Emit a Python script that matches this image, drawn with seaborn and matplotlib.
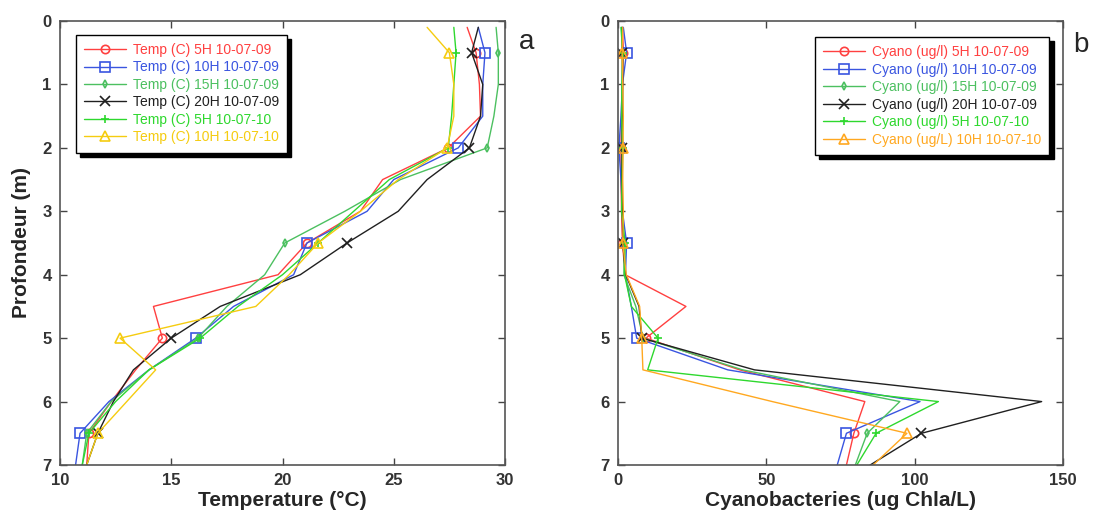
import matplotlib
matplotlib.use("Agg")
import matplotlib.pyplot as plt
import seaborn as sns
import numpy as np

# ---------------- data ----------------
depth = [0.1, 0.5, 1.0, 1.5, 2.0, 2.5, 3.0, 3.5, 4.0, 4.5, 5.0, 5.5, 6.0, 6.5, 7.0]

temp_labels = ["Temp (C) 5H 10-07-09", "Temp (C) 10H 10-07-09", "Temp (C) 15H 10-07-09",
               "Temp (C) 20H 10-07-09", "Temp (C) 5H 10-07-10", "Temp (C) 10H 10-07-10"]
cyano_labels = ["Cyano (ug/l) 5H 10-07-09", "Cyano (ug/l) 10H 10-07-09", "Cyano (ug/l) 15H 10-07-09",
                "Cyano (ug/l) 20H 10-07-09", "Cyano (ug/l) 5H 10-07-10", "Cyano (ug/L) 10H 10-07-10"]

temp_5h_09 = [28.3, 28.7, 28.85, 28.9, 27.45, 24.5, 23.5, 21.1, 19.8, 14.2, 14.6, 13.4, 12.3, 11.3, 11.2]
temp_10h_09 = [28.8, 29.1, 29.0, 29.0, 27.9, 25.0, 23.8, 21.1, 20.5, 17.8, 16.1, 14.0, 12.2, 10.9, 10.7]
temp_15h_09 = [29.6, 29.7, 29.7, 29.5, 29.2, 25.3, 22.8, 20.1, 19.2, 17.5, 16.2, 14.0, 12.3, 11.2, 11.0]
temp_20h_09 = [28.8, 28.5, 29.0, 28.9, 28.4, 26.5, 25.2, 22.9, 20.8, 17.2, 15.0, 13.3, 12.4, 11.7, 11.2]
temp_5h_10 = [27.7, 27.8, 27.7, 27.6, 27.45, 24.8, 23.2, 21.6, 20.0, 18.0, 16.3, 14.0, 12.5, 11.3, 11.0]
temp_10h_10 = [26.5, 27.5, 27.7, 27.7, 27.4, 25.2, 23.5, 21.6, 20.3, 18.8, 12.7, 14.3, 13.0, 11.7, 11.2]

cyano_5h_09 = [1.5, 1.8, 1.5, 1.2, 1.0, 1.0, 1.2, 1.5, 2.4, 22.9, 9.4, 41.0, 83.2, 79.5, 77.0]
cyano_10h_09 = [1.8, 2.9, 1.5, 1.0, 0.3, 1.0, 1.5, 2.9, 2.5, 4.5, 6.3, 37.0, 101.8, 77.0, 73.9]
cyano_15h_09 = [1.2, 1.5, 1.3, 1.2, 1.4, 1.3, 1.5, 2.0, 2.0, 6.0, 8.5, 42.0, 95.0, 84.0, 80.0]
cyano_20h_09 = [1.4, 1.5, 1.6, 1.5, 1.4, 1.3, 1.5, 1.6, 2.6, 7.1, 8.0, 46.0, 142.8, 102.3, 85.0]
cyano_5h_10 = [1.0, 1.6, 1.4, 1.3, 1.6, 1.4, 1.2, 2.4, 2.2, 4.5, 13.5, 10.0, 108.0, 87.0, 80.5]
cyano_10h_10 = [1.6, 1.4, 1.6, 1.8, 1.7, 1.6, 1.8, 1.6, 2.8, 7.3, 8.0, 8.4, 52.0, 97.4, 86.0]

temp_series = [temp_5h_09, temp_10h_09, temp_15h_09, temp_20h_09, temp_5h_10, temp_10h_10]
cyano_series = [cyano_5h_09, cyano_10h_09, cyano_15h_09, cyano_20h_09, cyano_5h_10, cyano_10h_10]

temp_ticks = [10, 15, 20, 25, 30]
cyano_ticks = [0, 50, 100, 150]
depth_ticks = [0, 1, 2, 3, 4, 5, 6, 7]

# ---------------- style ----------------
sns.set_style("ticks")
plt.rcParams["font.family"] = ["Liberation Sans", "DejaVu Sans"]

colors_a = ["#ff4040", "#3a55e0", "#4cc060", "#202020", "#2ed82e", "#f5cc10"]
colors_b = ["#ff4040", "#3a55e0", "#4cc060", "#202020", "#2ed82e", "#ffa820"]
markers = ["o", "s", "d", "x", "+", "^"]
msizes = [6, 7, 4, 7, 6, 7]

fig = plt.figure(figsize=(10.95, 5.15), dpi=100)
ax_a = fig.add_axes([60 / 1095, 50 / 515, 445 / 1095, 444 / 515])
ax_b = fig.add_axes([618 / 1095, 50 / 515, 445 / 1095, 444 / 515])


def draw(ax, series, labels, colors):
    for vals, lab, col, mk, ms in zip(series, labels, colors, markers, msizes):
        sns.lineplot(x=vals, y=depth, ax=ax, sort=False, estimator=None, color=col,
                     linewidth=1.0, marker=mk, markersize=ms, markerfacecolor="none",
                     markeredgecolor=col, markeredgewidth=1.2, markevery=(1, 3),
                     label=lab, legend=False)


draw(ax_a, temp_series, temp_labels, colors_a)
draw(ax_b, cyano_series, cyano_labels, colors_b)

for ax, xt in [(ax_a, temp_ticks), (ax_b, cyano_ticks)]:
    ax.set_xlim(xt[0], xt[-1])
    ax.set_ylim(7, 0)
    ax.set_xticks(xt)
    ax.set_yticks(depth_ticks)
    ax.set_xticklabels([str(t) for t in xt], fontsize=12, fontweight="bold", color="#333333")
    ax.set_yticklabels([str(t) for t in depth_ticks], fontsize=12, fontweight="bold", color="#333333")
    ax.tick_params(direction="in", length=5, width=1, top=True, right=True, colors="#444444",
                   labelcolor="#333333", pad=6)
    for sp in ax.spines.values():
        sp.set_visible(True)
        sp.set_color("#555555")
        sp.set_linewidth(1.2)
    leg = ax.legend(handles=ax.get_lines(), loc="upper left" if ax is ax_a else "upper right",
                    fontsize=10, labelcolor="linecolor", frameon=True, fancybox=False,
                    edgecolor="black", framealpha=1, handlelength=3.0, labelspacing=0.25,
                    borderpad=0.6, handletextpad=0.5,
                    shadow={"ox": 3, "oy": -3, "color": "black", "alpha": 1},
                    bbox_to_anchor=(0.02, 0.985) if ax is ax_a else (0.985, 0.98))
    leg.get_frame().set_linewidth(1.0)

ax_a.set_xlabel("Temperature (°C)", fontsize=15, fontweight="bold", labelpad=2)
ax_a.set_ylabel("Profondeur (m)", fontsize=15, fontweight="bold", labelpad=8)
ax_b.set_xlabel("Cyanobacteries (ug Chla/L)", fontsize=15, fontweight="bold", labelpad=2)
ax_b.set_ylabel("")

fig.text(527 / 1095, 1 - 42 / 515, "a", fontsize=20, ha="center", va="center")
fig.text(1081 / 1095, 1 - 45 / 515, "b", fontsize=20, ha="center", va="center")

fig.savefig("out.png", dpi=100)
